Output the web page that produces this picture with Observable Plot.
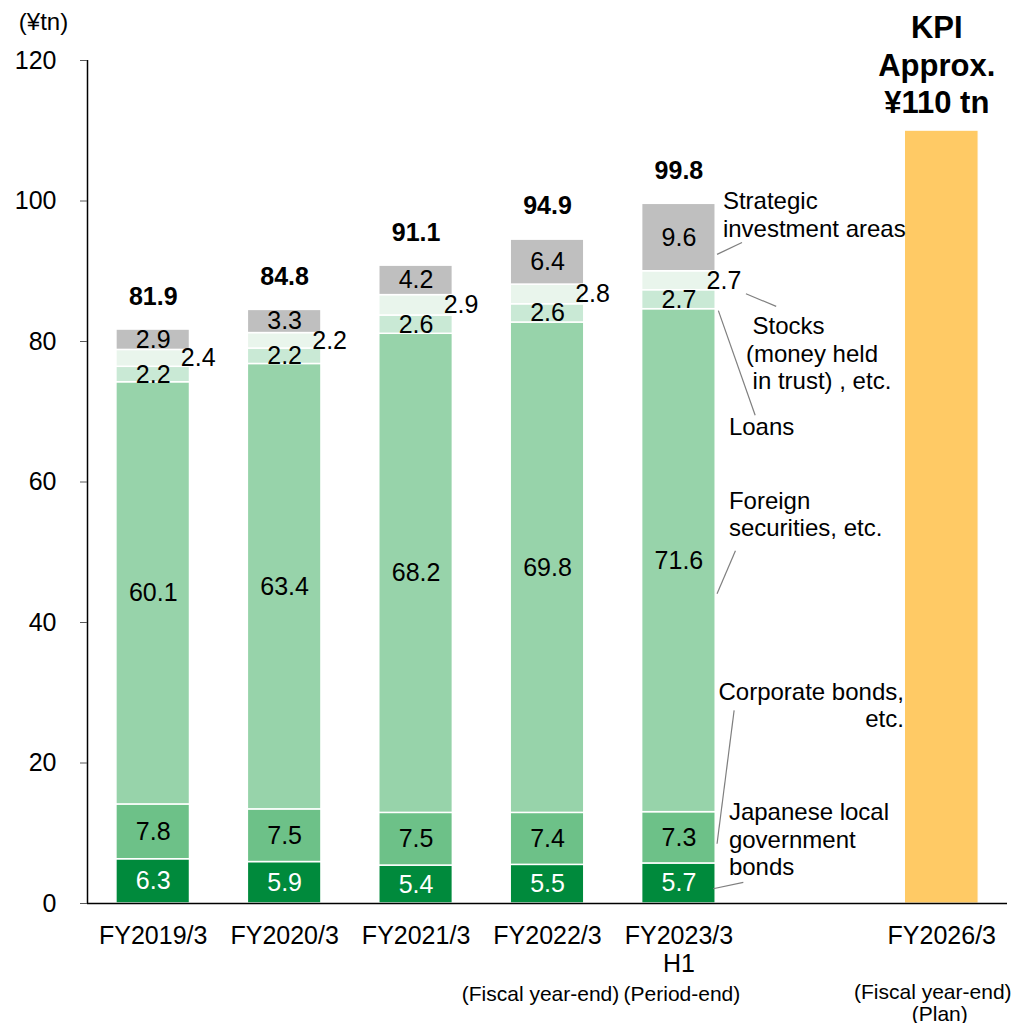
<!DOCTYPE html>
<html>
<head>
<meta charset="utf-8">
<script src="https://cdn.jsdelivr.net/npm/d3@7"></script>
<script src="https://cdn.jsdelivr.net/npm/@observablehq/plot@0.6"></script>
<style>
  html, body { margin: 0; padding: 0; background: #fff; }
  #chart svg { display: block; }
</style>
</head>
<body>
<div id="chart"></div>
<script>
// ---- data ----
const categories = ["FY2019/3", "FY2020/3", "FY2021/3", "FY2022/3", "FY2023/3\nH1", "", "FY2026/3"];
const series = ["Japanese local government bonds", "Corporate bonds, etc.", "Foreign securities, etc.", "Loans", "Stocks (money held in trust), etc.", "Strategic investment areas"];
const localGovBonds = [6.3, 5.9, 5.4, 5.5, 5.7];
const corporateBonds = [7.8, 7.5, 7.5, 7.4, 7.3];
const foreignSecurities = [60.1, 63.4, 68.2, 69.8, 71.6];
const loans = [2.2, 2.2, 2.6, 2.6, 2.7];
const stocks = [2.4, 2.2, 2.9, 2.8, 2.7];
const strategic = [2.9, 3.3, 4.2, 6.4, 9.6];
const totals = [81.9, 84.8, 91.1, 94.9, 99.8];
const kpiValue = 110;
const kpiLabel = "KPI\nApprox.\n¥110 tn";
const yTicks = [0, 20, 40, 60, 80, 100, 120];
const seriesColors = ["#008A3C", "#6DC188", "#97D3AA", "#C9E9D5", "#E9F5EC", "#BFBFBF"];
const kpiColor = "#FFCA65";

const annotations = [
  {text: "Strategic\ninvestment areas", y: 98.1, dx: 44, anchor: "start"},
  {text: " Stocks\n(money held\n in trust) , etc.", y: 78.4, dx: 67, anchor: "start"},
  {text: "Loans", y: 68.0, dx: 50, anchor: "start"},
  {text: "Foreign\nsecurities, etc.", y: 55.5, dx: 50, anchor: "start"},
  {text: "Corporate bonds,\netc.", y: 28.3, dx: 225, anchor: "end"},
  {text: "Japanese local\ngovernment\nbonds", y: 9.2, dx: 50, anchor: "start"}
];
const leaders = [
  {x1: 4.29, y1: 92.4, x2: 4.48, y2: 94.1},
  {x1: 4.51, y1: 86.8, x2: 4.74, y2: 85.0},
  {x1: 4.30, y1: 84.4, x2: 4.58, y2: 69.5},
  {x1: 4.29, y1: 44.1, x2: 4.43, y2: 50.2},
  {x1: 4.42, y1: 27.5, x2: 4.29, y2: 8.5},
  {x1: 4.26, y1: 2.1, x2: 4.49, y2: 3.0}
];

// ---- build stacked segments ----
const seriesValues = [localGovBonds, corporateBonds, foreignSecurities, loans, stocks, strategic];
const segments = [];
for (let i = 0; i < totals.length; i++) {
  let acc = 0;
  seriesValues.forEach((vals, s) => {
    const v = vals[i];
    segments.push({i, s, series: series[s], value: v, y1: acc, y2: acc + v});
    acc += v;
  });
}
const kpiBar = [{i: 6, y1: 0, y2: kpiValue}];
const half = 0.28;
const font = "'Liberation Sans', Arial, sans-serif";

const annotationMarks = annotations.map(a =>
  Plot.text([a], {x: 4, y: "y", text: "text", dx: a.dx, textAnchor: a.anchor, fontSize: 24, lineHeight: 1.15, fill: "#000"})
);

const plot = Plot.plot({
  width: 1014,
  height: 1023,
  marginLeft: 87,
  marginRight: 7,
  marginTop: 60,
  marginBottom: 120,
  style: {fontFamily: font, color: "#000", background: "#fff"},
  x: {type: "linear", domain: [-0.5, 6.5]},
  y: {domain: [0, 120]},
  color: {domain: series, range: seriesColors},
  marks: [
    Plot.rect(segments, {
      x1: d => d.i - half, x2: d => d.i + half, y1: "y1", y2: "y2",
      fill: "series", stroke: "#fff", strokeWidth: 1.5
    }),
    Plot.rect(kpiBar, {
      x1: d => d.i - half, x2: d => d.i + half, y1: "y1", y2: "y2",
      fill: kpiColor, stroke: "#fff", strokeWidth: 1
    }),
    Plot.ruleY([0], {stroke: "#000", strokeWidth: 1.5}),
    Plot.ruleX([-0.5], {y1: 0, y2: 120, stroke: "#000", strokeWidth: 1.5}),
    Plot.axisY({ticks: yTicks, tickSize: 7, tickPadding: 24, fontSize: 25, stroke: "#595959", label: null}),
    Plot.axisX({ticks: [0, 1, 2, 3, 4, 6], tickFormat: i => categories[i], tickSize: 0, tickPadding: 21, fontSize: 25, lineHeight: 1.12, label: null}),
    // segment labels (stocks labels sit to the right of the bar)
    Plot.text(segments, {
      x: "i", y: d => (d.y1 + d.y2) / 2,
      text: d => d.value.toFixed(1),
      fontSize: 25,
      fill: d => d.s === 0 ? "#fff" : "#000",
      filter: d => d.s !== 4
    }),
    Plot.text(segments, {
      x: "i", y: d => (d.y1 + d.y2) / 2,
      text: d => d.value.toFixed(1),
      dx: 45, fontSize: 25, fill: "#000",
      filter: d => d.s === 4
    }),
    // totals
    Plot.text(totals, {x: (d, i) => i, y: d => d, text: d => d.toFixed(1), dy: -31, fontSize: 25, fontWeight: "bold", fill: "#000"}),
    // KPI
    Plot.text([kpiLabel], {x: 6, y: kpiValue, text: d => d, dx: -5, dy: -67, fontSize: 31, fontWeight: "bold", lineHeight: 1.2, fill: "#000"}),
    // unit label
    Plot.text(["(¥tn)"], {x: -0.5, y: 120, text: d => d, dx: -44, dy: -38, fontSize: 24, fill: "#000"}),
    // notes under axis
    Plot.text(["(Fiscal year-end)"], {x: 3, y: 0, text: d => d, dx: -7, dy: 91, fontSize: 21, fill: "#000"}),
    Plot.text(["(Period-end)"], {x: 4, y: 0, text: d => d, dx: 3, dy: 91, fontSize: 21, fill: "#000"}),
    Plot.text(["(Fiscal year-end)"], {x: 6, y: 0, text: d => d, dx: -9, dy: 89, fontSize: 21, fill: "#000"}),
    Plot.text(["(Plan)"], {x: 6, y: 0, text: d => d, dx: -2, dy: 111, fontSize: 21, fill: "#000"}),
    // annotations
    Plot.link(leaders, {x1: "x1", y1: "y1", x2: "x2", y2: "y2", stroke: "#7F7F7F", strokeWidth: 1.2}),
    ...annotationMarks
  ]
});
document.getElementById("chart").appendChild(plot);
</script>
</body>
</html>
